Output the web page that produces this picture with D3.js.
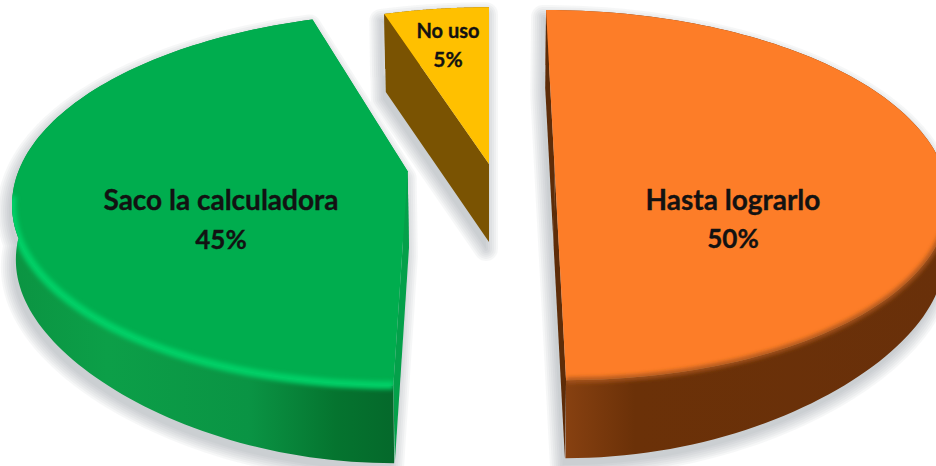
<!DOCTYPE html>
<html>
<head>
<meta charset="utf-8">
<script src="https://cdn.jsdelivr.net/npm/d3@7/dist/d3.min.js"></script>
<style>
  html, body { margin: 0; padding: 0; background: #fff; }
  svg { display: block; }
  text { font-family: Lato, "Open Sans", sans-serif; font-weight: 700; fill: #121212; stroke: #121212; stroke-width: 0.35; text-anchor: middle; }
</style>
</head>
<body>
<svg id="chart" width="936" height="466"></svg>
<script>
// Survey answers, clockwise from twelve o'clock
const categories = ["Hasta lograrlo", "Saco la calculadora", "No uso"];
const shares = [50, 45, 5];

// Colours per slice
const topColors = ["#fd7d28", "#00ad4e", "#ffc000"];
const rimColors = ["#a9551b", "#00d066", "none"];
const rimWidths = [5, 8, 0];
const cutColors = ["#5e2c08", "#04a04a", "#7a5302"];
const sideStops = [
  [[0, "#8f4513"], [0.22, "#6b3108"], [1, "#69300a"]],
  [[0, "#0b9442"], [0.25, "#0c9f48"], [0.62, "#0a9444"], [0.85, "#05742f"], [1, "#05692b"]],
  [[0, "#7a5302"], [1, "#7a5302"]]
];

// Exploded offset of each slice on the table plane (unit radius)
const offsetU = [0.169, -0.209, 0];
const offsetV = [0, 0.02, -0.02];

// Label placement
const labelX = [733, 221, 448];
const labelY = [[210, 248], [210, 249], [38, 67]];
const nameSize = [28, 28, 20];
const percentSize = [26, 26, 21];

const width = 936, height = 466;
const vanishX = 489, horizonY = 167.5;
const radiusX = 388, radiusY = 181, perspective = 0.149;
const cutDepth = 78, cutShrink = 0.985, wallShrink = 0.992;

// Map table-plane coordinates to the screen; the front of the table appears larger.
const xScale = d3.scaleLinear().domain([0, 1]).range([0, radiusX]);
const yScale = d3.scaleLinear().domain([0, 1]).range([0, radiusY]);
function project(u, v, drop = 0, shrink = 1) {
  const w = 1 / (1 - perspective * v);
  return [
    vanishX + xScale(u) * w * shrink,
    horizonY + yScale(v) * w + drop
  ];
}
// The outer wall looks shallower at the sides than at the very front.
const wallDepth = v => 55 + 23 * Math.pow(Math.max(0, v), 4);

const pie = d3.pie().value(d => d).sort(null);
const arcs = pie(shares);
const line = d3.line();

function polar(i, a, r = 1) {
  return [offsetU[i] + r * Math.sin(a), offsetV[i] - r * Math.cos(a)];
}
const sweep = d => d3.range(0, 121).map(k => d.startAngle + (d.endAngle - d.startAngle) * k / 120);
const topRim = (i, d) => sweep(d).map(a => project(...polar(i, a)));
const lowerRim = (i, d) => sweep(d).map(a => {
  const c = Math.min(1, -Math.cos(a));
  return project(...polar(i, a), wallDepth(c), wallShrink);
});
const topFacePath = (i, d) => line([project(...polar(i, 0, 0)), ...topRim(i, d)]) + "Z";
const outerSidePath = (i, d) => line([...topRim(i, d), ...lowerRim(i, d).reverse()]) + "Z";
const cutFacePath = (i, a) => line([
  project(...polar(i, 0, 0)), project(...polar(i, a)),
  project(...polar(i, a), cutDepth, cutShrink), project(...polar(i, 0, 0), cutDepth, cutShrink)
]) + "Z";
// Only the near half of the rim catches the bevel.
const nearRimPath = (i, d) =>
  line(sweep(d).filter(a => -Math.cos(a) > (i === 0 ? 0.05 : 0.12)).map(a => project(...polar(i, a))));

const svg = d3.select("#chart");
const defs = svg.append("defs");
defs.append("filter").attr("id", "softRim")
  .attr("filterUnits", "userSpaceOnUse")
  .attr("x", -60).attr("y", -60).attr("width", width + 120).attr("height", height + 120)
  .append("feGaussianBlur").attr("stdDeviation", 2.2);

arcs.forEach((d, i) => {
  const xs = topRim(i, d).map(p => p[0]);
  const grad = defs.append("linearGradient").attr("id", `side${i}`)
    .attr("gradientUnits", "userSpaceOnUse")
    .attr("x1", d3.min(xs)).attr("x2", d3.max(xs)).attr("y1", 0).attr("y2", 0);
  grad.selectAll("stop").data(sideStops[i]).join("stop")
    .attr("offset", s => s[0]).attr("stop-color", s => s[1]);
  const clip = defs.append("clipPath").attr("id", `wholeClip${i}`);
  clip.append("path").attr("d", topFacePath(i, d));
  clip.append("path").attr("d", outerSidePath(i, d));
});

// Soft cast shadow: stacked translucent outlines that widen outwards
const shadow = svg.append("g").attr("transform", "translate(-3,7)");
[24, 20, 16, 12, 8, 4, 0].forEach(w => {
  const layer = shadow.append("g").attr("opacity", 0.055)
    .attr("fill", "#6f7885").attr("stroke", "#6f7885")
    .attr("stroke-width", w).attr("stroke-linejoin", "round");
  layer.append("path").attr("d", arcs.map((d, i) =>
    topFacePath(i, d) + outerSidePath(i, d) + cutFacePath(i, d.startAngle) + cutFacePath(i, d.endAngle)
  ).join(""));
});

// Each slice: outer wall, cut walls, top face, bevel along the rim
const slices = svg.selectAll("g.slice").data(arcs).join("g").attr("class", "slice");
slices.each(function (d, i) {
  const g = d3.select(this);
  g.append("path").attr("d", outerSidePath(i, d)).attr("fill", `url(#side${i})`);
  g.append("path").attr("d", cutFacePath(i, d.startAngle)).attr("fill", cutColors[i]);
  g.append("path").attr("d", cutFacePath(i, d.endAngle)).attr("fill", cutColors[i]);
  g.append("path").attr("d", topFacePath(i, d)).attr("fill", topColors[i]);
  if (rimColors[i] !== "none") {
    g.append("g").attr("clip-path", `url(#wholeClip${i})`)
      .append("path").attr("d", nearRimPath(i, d))
      .attr("fill", "none").attr("stroke", rimColors[i])
      .attr("stroke-width", rimWidths[i]).attr("filter", "url(#softRim)");
  }
});

// Category and percentage labels
arcs.forEach((d, i) => {
  svg.append("text").attr("x", labelX[i]).attr("y", labelY[i][0])
    .attr("font-size", nameSize[i]).text(categories[i]);
  svg.append("text").attr("x", labelX[i]).attr("y", labelY[i][1])
    .attr("font-size", percentSize[i]).text(`${shares[i]}%`);
});
</script>
</body>
</html>
